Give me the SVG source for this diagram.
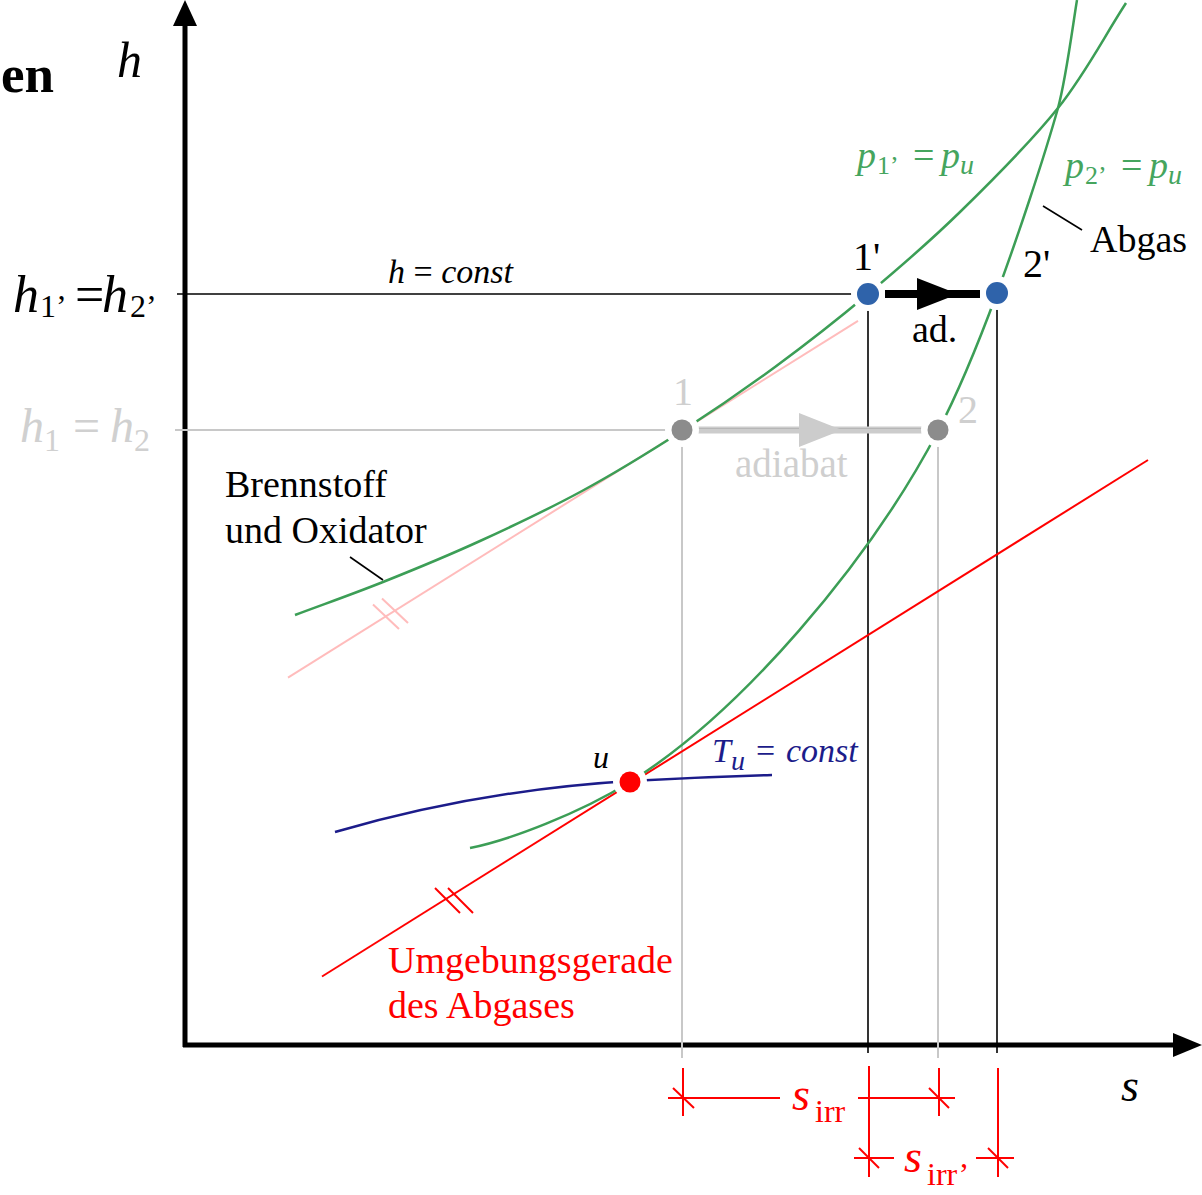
<svg xmlns="http://www.w3.org/2000/svg" width="1202" height="1195" viewBox="0 0 1202 1195">
<style>
text{font-family:"Liberation Serif","Times New Roman",serif;}
.it{font-style:italic;}
.grn{stroke:#3c9e56;stroke-width:2.5;fill:none;}
.gt{fill:#45a55e;}
.red{stroke:#ff0000;stroke-width:2;fill:none;}
.rt{fill:#ff0000;}
.gry{stroke:#c8c8c8;stroke-width:2;fill:none;}
.blk{stroke:#000;stroke-width:1.6;fill:none;}
.halo{fill:#fff;}
</style>
<rect width="1202" height="1195" fill="#fff"/>

<g id="axes">
  <line x1="185" y1="1047" x2="185" y2="22" stroke="#000" stroke-width="5"/>
  <polygon points="185,0 173,26 197,26" fill="#000"/>
  <line x1="183" y1="1045" x2="1178" y2="1045" stroke="#000" stroke-width="5"/>
  <polygon points="1202,1045 1173,1033 1173,1057" fill="#000"/>
  <text x="117" y="77" class="it" font-size="50">h</text>
  <text x="1121" y="1101" class="it" font-size="46">s</text>
  <text x="1" y="92" font-size="53" font-weight="bold">en</text>
</g>

<g id="connectors">
  <!-- reference lines -->
  <line x1="177" y1="294" x2="868" y2="294" class="blk"/>
  <line x1="175" y1="430" x2="682" y2="430" class="gry"/>
  <line x1="682" y1="430" x2="682" y2="1058" class="gry"/>
  <line x1="938" y1="430" x2="938" y2="1058" class="gry"/>
  <line x1="868" y1="294" x2="868" y2="1053" class="blk"/>
  <line x1="997" y1="294" x2="997" y2="1053" class="blk"/>

  <!-- pink tangent line and parallel marks -->
  <line x1="288" y1="677.6" x2="858" y2="320.8" stroke="#ffbcbc" stroke-width="2"/>
  <line x1="373" y1="604.5" x2="399" y2="629" stroke="#ffbcbc" stroke-width="2"/>
  <line x1="382" y1="598.5" x2="408" y2="623" stroke="#ffbcbc" stroke-width="2"/>

  <!-- red environment line and parallel marks -->
  <line x1="322" y1="976.5" x2="1148" y2="460" class="red"/>
  <line x1="435" y1="888" x2="460" y2="913" class="red"/>
  <line x1="448" y1="888" x2="473" y2="913" class="red"/>

  <!-- green isobar 1 (Brennstoff und Oxidator) -->
  <path class="grn" d="M295,615 C324.3,604 352.2,594.3 383,582 C413.8,569.7 446.8,556.2 480,541 C513.2,525.8 548.3,509.3 582,491 C615.7,472.7 649.8,451.7 682,431 C714.2,410.3 744,389.8 775,367 C806,344.2 837.2,319.8 868,294 C898.8,268.2 928.3,243 960,212 C991.7,181 1030.3,142.8 1058,108 C1085.7,73.2 1103.3,38 1126,3"/>
  <!-- green isobar 2 (Abgas) -->
  <path class="grn" d="M470,848 C510,840 580,813 630,782 C740,713.25 868,564 938,431 C958,393 977,347 997,293 C1017,239 1044,158 1058,108 C1066,79 1073,24 1077,0"/>

  <!-- isotherm -->
  <path d="M335,832 Q480,790 630,781 Q700,777 772,775" stroke="#1c1c8a" stroke-width="2.5" fill="none"/>

  <!-- leaders -->
  <line x1="350" y1="557" x2="383" y2="580" class="blk" stroke-width="2"/>
  <line x1="1043" y1="206" x2="1082" y2="230" class="blk" stroke-width="2"/>

  <!-- arrows -->
  <line x1="698" y1="430" x2="922" y2="430" stroke="#cccccc" stroke-width="7"/>
  <line x1="698" y1="428.5" x2="922" y2="428.5" stroke="#a8a8a8" stroke-width="1" opacity="0.6"/>
  <polygon points="799,413 799,447 842,430" fill="#cccccc"/>
  <line x1="885" y1="294" x2="980" y2="294" stroke="#000" stroke-width="8"/>
  <polygon points="917,278 917,310 958,294" fill="#000"/>

  <!-- dimension lines -->
  <line x1="683" y1="1068" x2="683" y2="1116" class="red"/>
  <line x1="939" y1="1068" x2="939" y2="1116" class="red"/>
  <line x1="869" y1="1066" x2="869" y2="1177" class="red"/>
  <line x1="998" y1="1068" x2="998" y2="1177" class="red"/>
  <line x1="668" y1="1098" x2="780" y2="1098" class="red"/>
  <line x1="858" y1="1098" x2="955" y2="1098" class="red"/>
  <line x1="854" y1="1158" x2="894" y2="1158" class="red"/>
  <line x1="976" y1="1158" x2="1014" y2="1158" class="red"/>
  <line x1="673" y1="1088" x2="694" y2="1108" class="red"/>
  <line x1="929" y1="1088" x2="949" y2="1108" class="red"/>
  <line x1="859" y1="1148" x2="879" y2="1168" class="red"/>
  <line x1="988" y1="1148" x2="1008" y2="1168" class="red"/>
</g>

<g id="node-1p">
  <circle cx="868" cy="294" r="17" class="halo"/>
  <circle cx="868" cy="294" r="11" fill="#2f63aa"/>
  <text x="853" y="270" font-size="40">1'</text>
</g>
<g id="node-2p">
  <circle cx="997" cy="293" r="17" class="halo"/>
  <circle cx="997" cy="293" r="11" fill="#2f63aa"/>
  <text x="1023" y="277" font-size="40">2'</text>
</g>
<g id="node-1">
  <circle cx="682" cy="430" r="17" class="halo"/>
  <circle cx="682" cy="430" r="10.5" fill="#8c8c8c"/>
  <text x="673" y="405" font-size="40" fill="#cfcfcf">1</text>
</g>
<g id="node-2">
  <circle cx="938" cy="430" r="17" class="halo"/>
  <circle cx="938" cy="430" r="10.5" fill="#8c8c8c"/>
  <text x="958" y="423" font-size="40" fill="#cfcfcf">2</text>
</g>
<g id="node-u">
  <circle cx="630" cy="782" r="17" class="halo"/>
  <circle cx="630" cy="782" r="10.5" fill="#ff0000"/>
  <text x="593" y="768" class="it" font-size="32">u</text>
</g>

<g id="labels">
  <text x="13" y="312" font-size="52"><tspan class="it">h</tspan><tspan x="40" y="317" font-size="32">1’</tspan><tspan x="75" y="312">=</tspan><tspan x="102" y="312" class="it">h</tspan><tspan x="130" y="317" font-size="32">2’</tspan></text>
  <text x="20" y="442" font-size="48" fill="#d0d0d0"><tspan class="it">h</tspan><tspan x="44" y="451" font-size="32">1</tspan><tspan x="73" y="442">=</tspan><tspan x="110" y="442" class="it">h</tspan><tspan x="134" y="451" font-size="32">2</tspan></text>
  <text x="388" y="283" font-size="34" class="it">h <tspan font-style="normal">=</tspan> const</text>
  <text x="912" y="342" font-size="38">ad.</text>
  <text x="735" y="477" font-size="39" fill="#cfcfcf">adiabat</text>
  <text x="1090" y="252" font-size="38">Abgas</text>
  <text x="225" y="497" font-size="38">Brennstoff</text>
  <text x="225" y="543" font-size="38">und Oxidator</text>
  <text x="857" y="168" font-size="38" class="gt"><tspan class="it">p</tspan><tspan x="877" y="174" font-size="26">1’</tspan><tspan x="913" y="168">=</tspan><tspan x="941" y="168" class="it">p</tspan><tspan x="960" y="174" font-size="28" class="it">u</tspan></text>
  <text x="1065" y="178" font-size="38" class="gt"><tspan class="it">p</tspan><tspan x="1085" y="184" font-size="26">2’</tspan><tspan x="1121" y="178">=</tspan><tspan x="1149" y="178" class="it">p</tspan><tspan x="1168" y="184" font-size="28" class="it">u</tspan></text>
  <text x="712" y="762" font-size="34" fill="#1c1c8a"><tspan class="it">T</tspan><tspan x="731" y="770" font-size="28" class="it">u</tspan><tspan x="756" y="762">=</tspan><tspan x="786" y="762" class="it">const</tspan></text>
  <text x="388" y="973" font-size="38" class="rt">Umgebungsgerade</text>
  <text x="388" y="1018" font-size="38" class="rt">des Abgases</text>
  <text x="792" y="1110" font-size="46" class="rt"><tspan class="it">s</tspan><tspan x="815" y="1122" font-size="32">irr</tspan></text>
  <text x="904" y="1172" font-size="46" class="rt"><tspan class="it">s</tspan><tspan x="927" y="1185" font-size="32">irr’</tspan></text>
</g>
</svg>
